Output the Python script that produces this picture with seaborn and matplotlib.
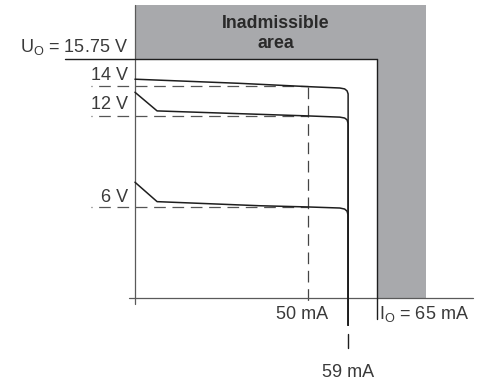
import matplotlib
matplotlib.use("Agg")
import matplotlib.pyplot as plt
import seaborn as sns
import pandas as pd

# ---- data (schematic chart; x in plot units where 50 mA sits at 50) ----
curve_names = ["14 V", "12 V", "6 V"]
curve14_x = [0.0, 30.0, 50.0, 59.2, 60.6, 61.3, 61.6, 61.6]
curve14_y = [14.42, 14.15, 13.93, 13.84, 13.78, 13.65, 13.45, -1.8]
curve12_x = [0.0, 6.4, 30.0, 50.0, 59.2, 60.6, 61.3, 61.6, 61.6]
curve12_y = [13.56, 12.33, 12.15, 12.0, 11.92, 11.86, 11.74, 11.5, -1.8]
curve6_x = [0.0, 6.4, 36.0, 50.0, 59.2, 60.6, 61.3, 61.6, 61.6]
curve6_y = [7.63, 6.35, 6.08, 6.0, 5.93, 5.86, 5.72, 5.45, -1.8]

ref_levels = [14, 12, 6]
ref_labels = ["14 V", "12 V", "6 V"]
U_O = 15.75
I_50_pos, I_59_pos, I_O_pos = 50.0, 61.6, 70.0
x_labels = ["50 mA", "59 mA", "I$_\\mathregular{O}$ = 65 mA"]
u_label = "U$_\\mathregular{O}$ = 15.75 V"
area_lines = ["Inadmissible", "area"]

sns.set_theme(style="white")
plt.rcParams["font.family"] = ["Liberation Sans", "DejaVu Sans"]
plt.rcParams["lines.scale_dashes"] = False

fig = plt.figure(figsize=(4.81, 3.85), dpi=100)
ax = fig.add_axes([0, 0, 1, 1])
ax.set_xlim(-39.0, 100.0)
ax.set_ylim(-5.735, 19.64)
ax.axis("off")

gray = "#a8a9ac"
ink = "#1e1e1e"
txt = "#3a3a3a"
axc = "#5a5a5a"

# inadmissible area (L-shape)
ax.fill([0, 84.1, 84.1, I_O_pos, I_O_pos, 0], [19.3, 19.3, 0, 0, U_O, U_O],
        color=gray, lw=0, zorder=1)

# axes lines
ax.plot([0, 0], [-0.4, 19.3], color=axc, lw=0.9, zorder=3)
ax.plot([-1.7, 97.7], [0, 0], color=axc, lw=0.9, zorder=3)

# boundary lines
ax.plot([-20.2, I_O_pos], [U_O, U_O], color=ink, lw=1.0, zorder=4)
ax.plot([I_O_pos, I_O_pos], [U_O, -1.4], color=ink, lw=1.0, zorder=4)

# dashed reference lines
dash = (7.7, (8.4, 4.8))
for lv in ref_levels:
    ax.plot([-12.7, I_50_pos], [lv, lv], color="#555555", lw=0.9,
            linestyle=dash, zorder=2)
ax.plot([I_50_pos, I_50_pos], [13.93, -0.45], color="#444444", lw=0.9,
        linestyle=(0, (8.4, 4.8)), zorder=2)

# curves
frames = []
for name, xs, ys in zip(curve_names, [curve14_x, curve12_x, curve6_x],
                        [curve14_y, curve12_y, curve6_y]):
    frames.append(pd.DataFrame({"I": xs, "U": ys, "curve": name}))
df = pd.concat(frames, ignore_index=True)
sns.lineplot(data=df, x="I", y="U", units="curve", estimator=None, sort=False,
             color=ink, lw=1.1, ax=ax, zorder=5, legend=False)
ax.axis("off")

# 59 mA tick below
ax.plot([I_59_pos, I_59_pos], [-2.4, -3.3], color=ink, lw=1.0, zorder=4)

# texts
fs = 13
ax.text(-2.0, 16.22, u_label, ha="right", va="baseline", fontsize=fs, color=txt)
for lab, yb in zip(ref_labels, [14.37, 12.44, 6.35]):
    ax.text(-2.0, yb, lab, ha="right", va="baseline", fontsize=fs, color=txt)
ax.text(48.2, -1.38, x_labels[0], ha="center", va="baseline", fontsize=fs, color=txt)
ax.text(61.6, -5.2, x_labels[1], ha="center", va="baseline", fontsize=fs, color=txt)
ax.text(70.6, -1.38, x_labels[2], ha="left", va="baseline", fontsize=fs, color=txt)
ax.text(40.6, 17.82, area_lines[0], ha="center", va="baseline", fontsize=12.8,
        fontweight="bold", color="#2a2a2a")
ax.text(40.6, 16.5, area_lines[1], ha="center", va="baseline", fontsize=12.8,
        fontweight="bold", color="#2a2a2a")

fig.savefig("out.png", dpi=100)
